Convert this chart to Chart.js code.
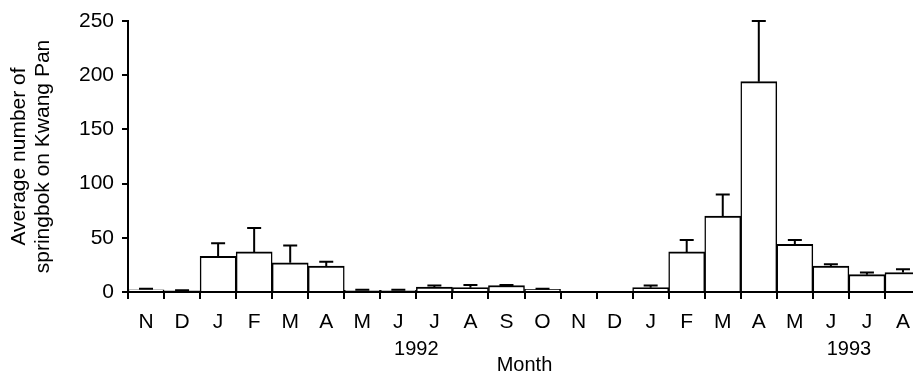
<!DOCTYPE html>
<html>
<head>
<meta charset="utf-8">
<script src="https://cdn.jsdelivr.net/npm/chart.js@4/dist/chart.umd.min.js"></script>
<style>
  html, body { margin: 0; padding: 0; background: #fff; }
  #wrap { width: 913px; height: 372px; overflow: hidden; }
</style>
</head>
<body>
<div id="wrap"><canvas id="springbokChart" width="925" height="372"></canvas></div>
<script>
// Monthly counts, Nov 1991 - Aug 1993
const months = ['N', 'D', 'J', 'F', 'M', 'A', 'M', 'J', 'J', 'A', 'S', 'O',
                'N', 'D', 'J', 'F', 'M', 'A', 'M', 'J', 'J', 'A'];
const meanCount = [2, 1, 33, 37, 27, 24, 1.5, 1.5, 4.5, 4, 6, 2.5,
                   0, 0, 4, 37, 70, 194, 44, 24, 16, 18];
const stdError = [1, 0.5, 12, 22, 16, 4, 0.5, 0.5, 1.5, 2.5, 0.5, 0.5,
                  0, 0, 2, 11, 20, 56, 4, 1.5, 2, 3];
const yearLabels = ['1992', '1993'];
const yearSlots = [7.5, 19.5]; // between Jun and Jul of each year

const fontFamily = '"Liberation Sans", Arial, Helvetica, sans-serif';
Chart.defaults.font.family = fontFamily;
Chart.defaults.color = '#000';

// upper error bars with a small cap
const errorBars = {
  id: 'errorBars',
  afterDatasetsDraw(chart) {
    const ctx = chart.ctx;
    const yScale = chart.scales.y;
    const bars = chart.getDatasetMeta(0).data;
    ctx.save();
    ctx.strokeStyle = '#000';
    ctx.lineWidth = 2;
    bars.forEach((bar, i) => {
      const err = stdError[i];
      if (!err) return;
      const yTop = yScale.getPixelForValue(meanCount[i] + err);
      ctx.beginPath();
      ctx.moveTo(bar.x, bar.y);
      ctx.lineTo(bar.x, yTop);
      ctx.moveTo(bar.x - 7, yTop);
      ctx.lineTo(bar.x + 7, yTop);
      ctx.stroke();
    });
    ctx.restore();
  }
};

// year captions under the month letters
const yearCaptions = {
  id: 'yearCaptions',
  afterDraw(chart) {
    const ctx = chart.ctx;
    const xScale = chart.scales.x;
    ctx.save();
    ctx.font = '20px ' + fontFamily;
    ctx.fillStyle = '#000';
    ctx.textAlign = 'center';
    ctx.textBaseline = 'middle';
    yearLabels.forEach((txt, i) => {
      ctx.fillText(txt, xScale.getPixelForValue(yearSlots[i]), 349);
    });
    ctx.restore();
  }
};

const ctx = document.getElementById('springbokChart').getContext('2d');
new Chart(ctx, {
  type: 'bar',
  data: {
    labels: months,
    datasets: [{
      data: meanCount,
      backgroundColor: '#fff',
      borderColor: '#000',
      borderWidth: { top: 2, left: 1.5, right: 1.5, bottom: 0 },
      borderSkipped: 'start',
      barPercentage: 1,
      categoryPercentage: 1
    }]
  },
  options: {
    responsive: false,
    animation: false,
    devicePixelRatio: 1,
    layout: { padding: { left: 0, top: 21, right: 4, bottom: 0 } },
    plugins: {
      legend: { display: false },
      tooltip: { enabled: false }
    },
    scales: {
      x: {
        afterFit: (scale) => { scale.height = 80; },
        offset: true,
        grid: {
          offset: true,
          drawOnChartArea: false,
          color: '#000',
          lineWidth: 2,
          tickLength: 7
        },
        border: { color: '#000', width: 2 },
        ticks: { font: { size: 21 }, padding: 11, maxRotation: 0, autoSkip: false },
        title: {
          display: true,
          text: 'Month',
          font: { size: 20, lineHeight: 1 },
          padding: { top: 0, bottom: -3 }
        }
      },
      y: {
        afterFit: (scale) => { scale.width = 128; },
        min: 0,
        max: 250,
        ticks: { stepSize: 50, font: { size: 21 }, padding: 8 },
        grid: {
          drawOnChartArea: false,
          color: '#000',
          lineWidth: 2,
          tickLength: 6
        },
        border: { color: '#000', width: 2 },
        title: {
          display: true,
          text: ['Average number of', 'springbok on Kwang Pan'],
          font: { size: 21, lineHeight: 1.15 },
          padding: { top: 7, bottom: 0 }
        }
      }
    }
  },
  plugins: [errorBars, yearCaptions]
});
</script>
</body>
</html>
